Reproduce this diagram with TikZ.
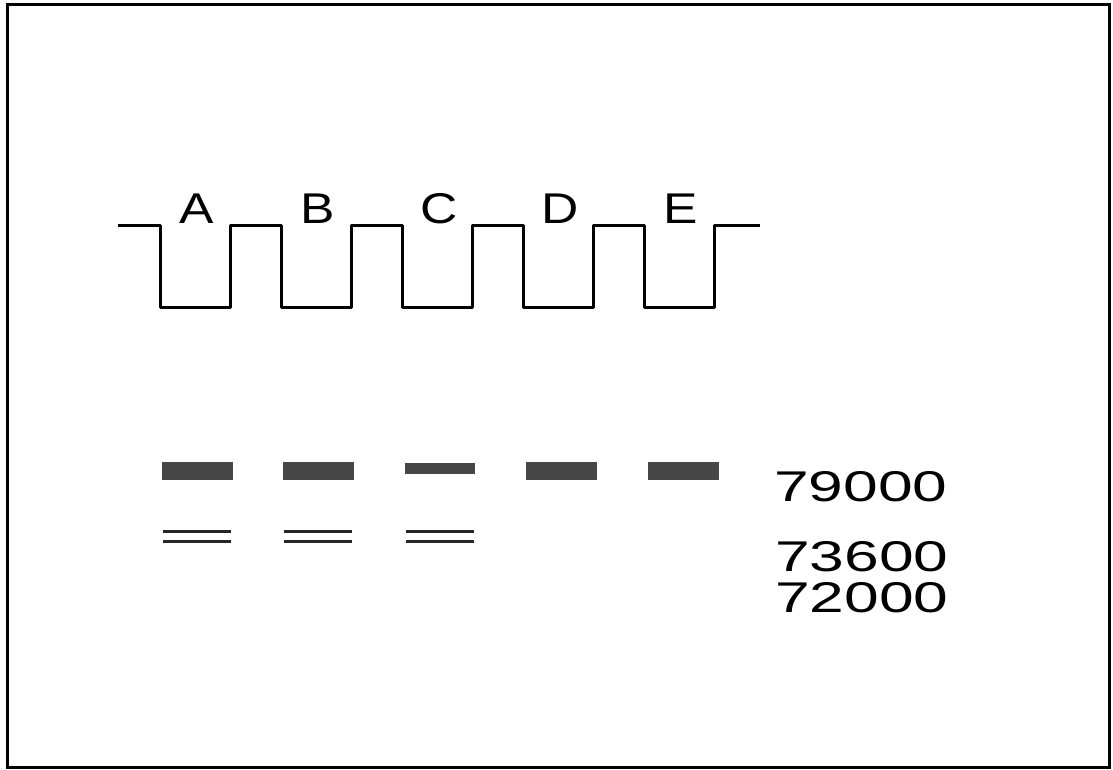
\documentclass[tikz,border=0pt]{standalone}
\usepackage{fontspec}
\setmainfont{Liberation Sans}[FakeStretch=1.2]
\newfontfamily\sizefont{Liberation Sans}[FakeStretch=1.45]
\usepackage{tikz}
\usetikzlibrary{calc}

\tikzset{
    lanelabel/.style={font=\fontsize{21.5}{24}\selectfont, inner sep=0pt, anchor=base},
    sizelabel/.style={font=\sizefont\fontsize{21.5}{24}\selectfont, inner sep=0pt},
    band/.style={fill=black!72},
    thinband/.style={line width=1.5pt, black!85}
}

\begin{document}
\begin{tikzpicture}[x=0.5pt, y=-0.5pt]
        \useasboundingbox (0,0) rectangle (1113,770);
        \draw[line width=1.5pt] (7,5) rectangle (1109,767);
        % gel profile with the five wells
        \draw[line width=1.5pt, line join=round]
            (118,226) \foreach \x in {160,281,402,523,644}
            { -- (\x,226) -- (\x,307) -- (\x+70,307) -- (\x+70,226) } -- (760,226);
        \foreach \l [count=\i] in {A,B,C,D,E}
        \node[lanelabel] (lane\l) at ({197+121*(\i-1)},224) {\l};
        % upper bands
        \foreach \x in {162,283,526,648}
        \fill[band] (\x,462) rectangle (\x+71,480);
        \fill[band] (405,463) rectangle (475,474);
        % double bands
        \foreach \x in {163,284,406}
        {
        \draw[thinband] (\x,531) -- (\x+68,531);
        \draw[thinband] (\x,541) -- (\x+68,541);
        }
        \node[sizelabel] (mwA) at (861,487) {79000};
        \node[sizelabel] (mwB) at (862,557) {73600};
        \node[sizelabel] (mwC) at (862,598) {72000};
    \end{tikzpicture}
\end{document}
